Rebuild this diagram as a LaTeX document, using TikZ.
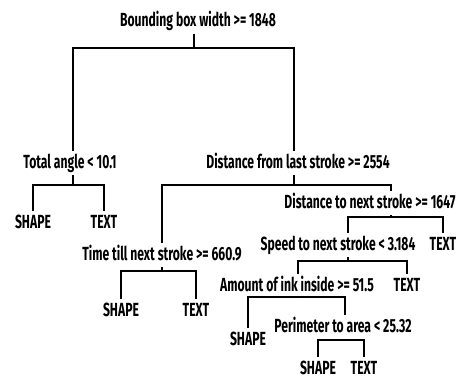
\documentclass[tikz,border=0pt]{standalone}
\usepackage{fontspec}
\newfontfamily\treefont{Fira Sans}[FakeStretch=0.64]
\usepackage{tikz}

\tikzset{
  cond/.style={font=\treefont\bfseries\fontsize{19}{22}\selectfont, anchor=base,
    inner xsep=0pt, inner ysep=4pt, text height=13pt, text depth=3pt},
  leaf/.style={cond, inner ysep=1pt, text height=16pt, text depth=0pt},
  branch/.style={line width=1.5pt}
}

\begin{document}
\begin{tikzpicture}[x=1pt, y=-1pt]
\useasboundingbox (0,0) rectangle (464,380);
% tests
\node[cond] (root) at (198,27) {Bounding box width >= 1848};
\node[cond] (ta) at (70,168) {Total angle < 10.1};
\node[cond] (dfl) at (298,168) {Distance from last stroke >= 2554};
\node[cond] (dn) at (370,208) {Distance to next stroke >= 1647};
\node[cond] (tt) at (162,260) {Time till next stroke >= 660.9};
\node[cond] (spd) at (338,250) {Speed to next stroke < 3.184};
\node[cond] (am) at (297,291) {Amount of ink inside >= 51.5};
\node[cond] (pe) at (343,332) {Perimeter to area < 25.32};
% classes
\node[leaf] (sh1) at (33,228) {SHAPE};
\node[leaf] (tx1) at (104,228) {TEXT};
\node[leaf] (sh2) at (121,316) {SHAPE};
\node[leaf] (tx2) at (196,316) {TEXT};
\node[leaf] (tx3) at (443,250) {TEXT};
\node[leaf] (tx4) at (407,291) {TEXT};
\node[leaf] (sh3) at (248,345) {SHAPE};
\node[leaf] (sh4) at (318,374) {SHAPE};
\node[leaf] (tx5) at (364,374) {TEXT};
% junctions
\coordinate (rootJ) at (194,48);
\coordinate (taJ) at (73,185);
\coordinate (dflJ) at (294,185);
\coordinate (dnJ) at (391,217);
\coordinate (ttJ) at (162,271);
\coordinate (spdJ) at (348,261);
\coordinate (amJ) at (298,297);
\coordinate (peJ) at (345,340);
% branches
\draw[branch] (root.south -| rootJ) -- (rootJ);
\draw[branch] (rootJ) -| (ta.north -| taJ);
\draw[branch] (rootJ) -| (dfl.north -| dflJ);
\draw[branch] (ta.south -| taJ) -- (taJ);
\draw[branch] (taJ) -| (sh1.north);
\draw[branch] (taJ) -| (tx1.north);
\draw[branch] (dfl.south -| dflJ) -- (dflJ);
\draw[branch] (dflJ) -| (tt.north -| ttJ);
\draw[branch] (dflJ) -| (dn.north -| dnJ);
\draw[branch] (tt.south -| ttJ) -- (ttJ);
\draw[branch] (ttJ) -| (sh2.north);
\draw[branch] (ttJ) -| (tx2.north);
\draw[branch] (dn.south -| dnJ) -- (dnJ);
\draw[branch] (dnJ) -| (spd.north -| spdJ);
\draw[branch] (dnJ) -| (tx3.north);
\draw[branch] (spd.south -| spdJ) -- (spdJ);
\draw[branch] (spdJ) -| (am.north -| amJ);
\draw[branch] (spdJ) -| (tx4.north);
\draw[branch] (am.south -| amJ) -- (amJ);
\draw[branch] (amJ) -| (sh3.north);
\draw[branch] (amJ) -| (pe.north -| peJ);
\draw[branch] (pe.south -| peJ) -- (peJ);
\draw[branch] (peJ) -| (sh4.north);
\draw[branch] (peJ) -| (tx5.north);
\end{tikzpicture}
\end{document}
